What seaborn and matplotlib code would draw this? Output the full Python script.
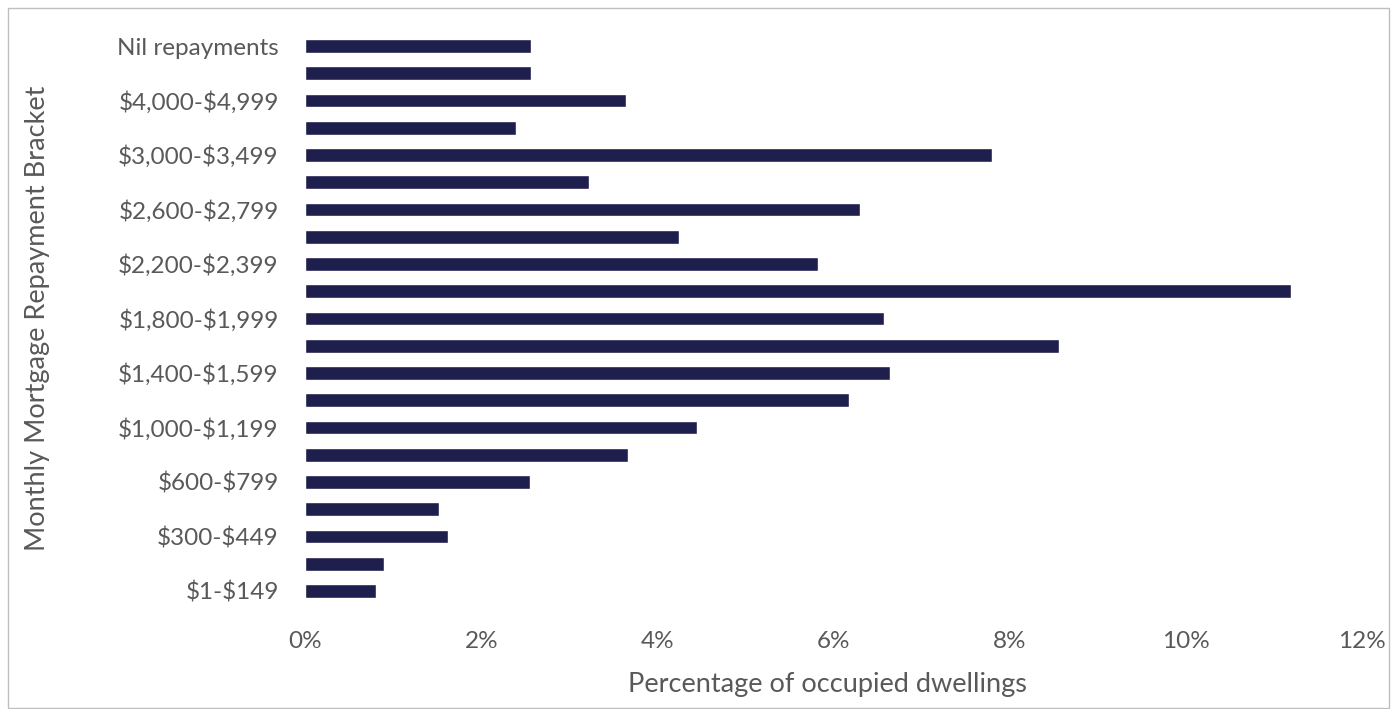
import matplotlib
matplotlib.use("Agg")
import matplotlib.pyplot as plt
import seaborn as sns
import pandas as pd
from matplotlib.patches import Rectangle
from matplotlib.ticker import PercentFormatter

sns.set_theme(style="white")
plt.rcParams["font.family"] = ["Lato", "DejaVu Sans"]
plt.rcParams["text.parse_math"] = False  # labels carry plain "$" signs

# brackets listed top to bottom as drawn
brackets = ["Nil repayments", "$5,000 and over", "$4,000-$4,999", "$3,500-$3,999",
            "$3,000-$3,499", "$2,800-$2,999", "$2,600-$2,799", "$2,400-$2,599",
            "$2,200-$2,399", "$2,000-$2,199", "$1,800-$1,999", "$1,600-$1,799",
            "$1,400-$1,599", "$1,200-$1,399", "$1,000-$1,199", "$800-$999",
            "$600-$799", "$450-$599", "$300-$449", "$150-$299", "$1-$149"]
share_pct = [2.56, 2.56, 3.64, 2.40, 7.80, 3.22, 6.30, 4.25, 5.82, 11.20, 6.57,
             8.56, 6.64, 6.18, 4.45, 3.67, 2.55, 1.52, 1.62, 0.90, 0.80]

df = pd.DataFrame({"bracket": brackets, "share": share_pct})

TXT = "#595959"
BAR = "#1F1F4E"

fig = plt.figure(figsize=(13.91, 7.09), dpi=100)
ax = fig.add_axes([0.2193, 0.1473, 0.7598, 0.807])

sns.barplot(data=df, x="share", y="bracket", order=brackets, color=BAR,
            width=0.5, saturation=1, ax=ax)

ax.set_xlim(0, 12)
ax.set_xticks(range(0, 13, 2))
ax.xaxis.set_major_formatter(PercentFormatter(decimals=0))
ax.set_yticks(range(len(brackets)))
ax.set_yticklabels([b if i % 2 == 0 else "" for i, b in enumerate(brackets)])
ax.tick_params(axis="both", length=0, labelsize=17.5, labelcolor=TXT)
ax.tick_params(axis="x", pad=19)
ax.tick_params(axis="y", pad=19)
for s in ax.spines.values():
    s.set_visible(False)

ax.set_xlabel("Percentage of occupied dwellings", fontsize=19.5, color=TXT)
ax.xaxis.set_label_coords(0.494, -0.118)
ax.set_ylabel("Monthly Mortgage Repayment Bracket", fontsize=19.5, color=TXT)
ax.yaxis.set_label_coords(-0.241, 0.5)

fig.patches.append(Rectangle((8 / 1391, 1 / 709), 1381 / 1391, 700 / 709,
                             transform=fig.transFigure, fill=False,
                             edgecolor="#BFBFBF", linewidth=1))

fig.savefig("out.png", dpi=100)
